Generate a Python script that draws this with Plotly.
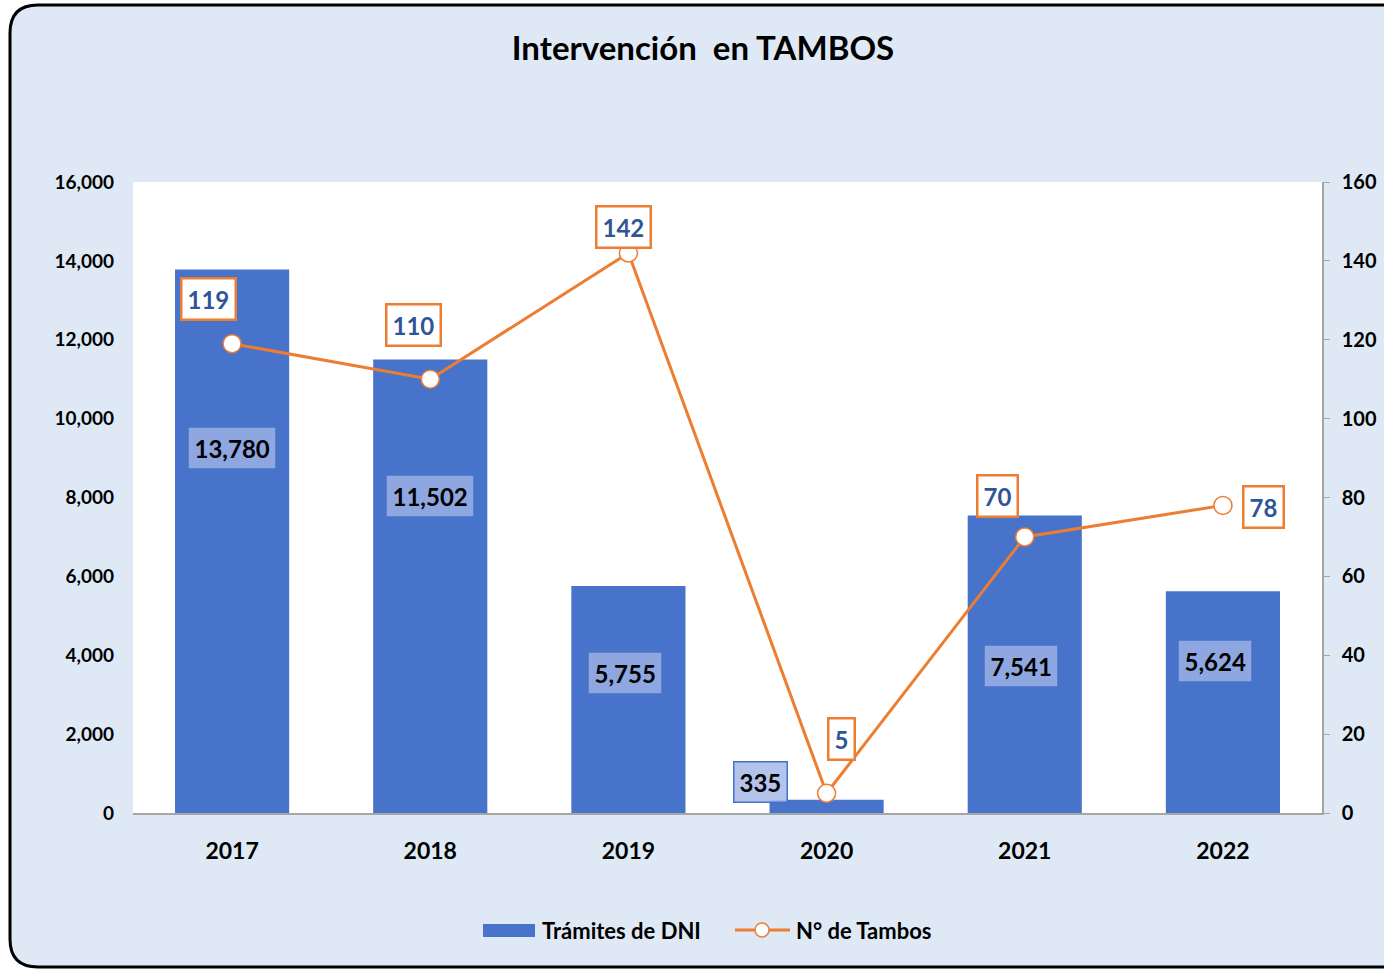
import plotly.graph_objects as go

years = ["2017", "2018", "2019", "2020", "2021", "2022"]
tramites = [13780, 11502, 5755, 335, 7541, 5624]
tambos = [119, 110, 142, 5, 70, 78]

y1_ticks = [0, 2000, 4000, 6000, 8000, 10000, 12000, 14000, 16000]
y2_ticks = [0, 20, 40, 60, 80, 100, 120, 140, 160]

# label offsets (pixels) : style/position only
bar_lbl_dx = [0, 0, -3, -66, -4, -8]
bar_lbl_dy = [-178, -137, -87, 18, -150, -70]
line_lbl_dx = [-24, -17, -5, 15, -27, 41]
line_lbl_dy = [45, 54, 26, 54, 41, -2]

W, H = 1384, 970
L, R, T, B = 133, 62, 182, 157
PW, PH = W - L - R, H - T - B

def px(x):
    return (x - L) / PW

def py(y):
    return (H - B - y) / PH

FONT = "Lato"
ORANGE = "#ED7D31"
BLUE = "#4773CA"

fig = go.Figure()
fig.add_trace(go.Bar(
    x=years, y=tramites, name="Trámites de DNI",
    marker=dict(color=BLUE, line=dict(width=0)),
    width=0.576, yaxis="y", showlegend=False,
))
fig.add_trace(go.Scatter(
    x=years, y=tambos, name="N° de Tambos", yaxis="y2",
    mode="lines+markers", showlegend=False,
    line=dict(color=ORANGE, width=3),
    marker=dict(symbol="circle", size=18, color="white", line=dict(color=ORANGE, width=1.5)),
))

# rounded border background
x0, x1 = px(10), px(1420)
y0, y1 = py(967), py(5)
rx, ry = 28 / PW, 28 / PH
path = (f"M {x0+rx},{y1} L {x1},{y1} L {x1},{y0} L {x0+rx},{y0} "
        f"Q {x0},{y0} {x0},{y0+ry} L {x0},{y1-ry} Q {x0},{y1} {x0+rx},{y1} Z")
shapes = [
    dict(type="path", xref="paper", yref="paper", path=path,
         fillcolor="#DEE9F5", line=dict(color="black", width=3), layer="below"),
    dict(type="rect", xref="paper", yref="paper", x0=0, x1=1, y0=0, y1=1,
         fillcolor="white", line=dict(width=0), layer="below"),
    # manual legend
    dict(type="rect", xref="paper", yref="paper", x0=px(483), x1=px(535), y0=py(937), y1=py(924),
         fillcolor=BLUE, line=dict(width=0)),
    dict(type="line", xref="paper", yref="paper", x0=px(735), x1=px(790), y0=py(930), y1=py(930),
         line=dict(color=ORANGE, width=3)),
    dict(type="circle", xref="paper", yref="paper", x0=px(755), x1=px(769), y0=py(937), y1=py(923),
         fillcolor="white", line=dict(color=ORANGE, width=1.5)),
]

annotations = []
for i, v in enumerate(tramites):
    is_out = v < 1000
    annotations.append(dict(
        x=i, y=v, xref="x", yref="y", text=f"<b>{v:,}</b>", showarrow=False,
        xshift=bar_lbl_dx[i], yshift=bar_lbl_dy[i],
        font=dict(family=FONT, size=24, color="black"),
        bgcolor="rgba(172,188,232,0.9)" if is_out else "rgba(190,202,238,0.6)",
        bordercolor="#4472C4" if is_out else "rgba(0,0,0,0)", borderwidth=1.5, borderpad=5,
    ))
for i, v in enumerate(tambos):
    annotations.append(dict(
        x=i, y=v, xref="x", yref="y2", text=f"<b>{v}</b>", showarrow=False,
        xshift=line_lbl_dx[i], yshift=line_lbl_dy[i],
        font=dict(family=FONT, size=24, color="#2F5597"),
        bgcolor="white", bordercolor=ORANGE, borderwidth=2.5, borderpad=5,
    ))
annotations.append(dict(x=px(540), y=py(930), xref="paper", yref="paper", xanchor="left",
                        yanchor="middle", showarrow=False, text="<b>Trámites de DNI</b>",
                        font=dict(family=FONT, size=22, color="black")))
annotations.append(dict(x=px(794), y=py(930), xref="paper", yref="paper", xanchor="left",
                        yanchor="middle", showarrow=False, text="<b>N° de Tambos</b>",
                        font=dict(family=FONT, size=22, color="black")))

fig.update_layout(
    width=W, height=H,
    margin=dict(l=L, r=R, t=T, b=B, autoexpand=False),
    paper_bgcolor="white", plot_bgcolor="white",
    title=dict(text="<b>Intervención  en TAMBOS</b>", x=px(703), xanchor="center",
               xref="paper", y=1 - 48 / H, yanchor="middle",
               font=dict(family=FONT, size=33, color="black")),
    font=dict(family=FONT, color="black"),
    xaxis=dict(type="category", range=[-0.5, 5.5], showgrid=False, showline=True,
               linecolor="#A6A6A6", linewidth=1.5, automargin=False,
               tickfont=dict(family=FONT, size=23, color="black"), ticks="",
               ticklabelstandoff=17,
               tickvals=years, ticktext=[f"<b>{y}</b>" for y in years]),
    yaxis=dict(range=[0, 16000], tickvals=y1_ticks, ticktext=[f"<b>{t:,}</b>" for t in y1_ticks],
               showgrid=False, zeroline=False, showline=False, automargin=False,
               tickfont=dict(family=FONT, size=19, color="black"), ticklabelstandoff=18),
    yaxis2=dict(range=[0, 160], tickvals=y2_ticks, ticktext=[f"<b>{t}</b>" for t in y2_ticks],
                overlaying="y", side="right", showgrid=False, zeroline=False,
                showline=True, linecolor="#A6A6A6", linewidth=1.5, ticks="outside",
                ticklen=6, tickcolor="#A6A6A6", ticklabelstandoff=8, automargin=False,
                tickfont=dict(family=FONT, size=20, color="black")),
    shapes=shapes, annotations=annotations,
    showlegend=False,
)

fig.write_html("out.html", config={"displayModeBar": False},
               post_script="document.body.style.margin='0px';")
